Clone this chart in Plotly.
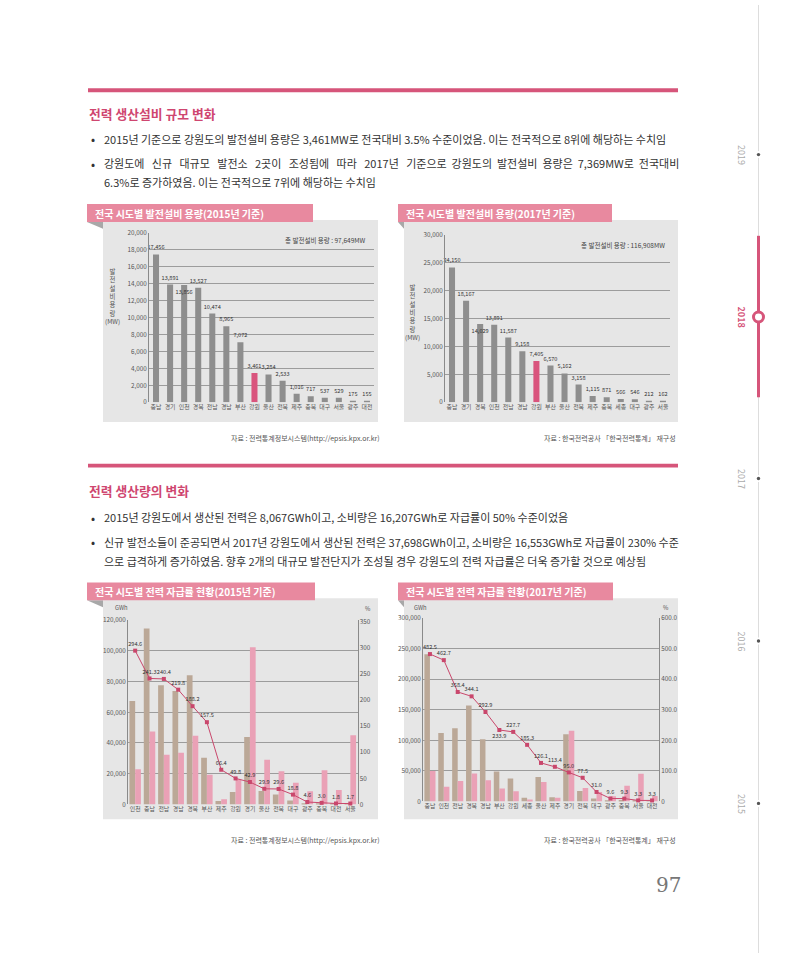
import plotly.graph_objects as go

W, H = 800, 957
def px(x): return x / W
def py(y): return 1 - y / H

FONT = "Noto Sans CJK KR"
NUMFONT = "Noto Sans CJK KR"

# ---------------- DATA ----------------
cap15_regions = ["충남","경기","인천","경북","전남","경남","부산","강원","울산","전북","제주","충북","대구","서울","광주","대전"]
cap15_values = [17456,13891,13856,13527,10474,8965,7072,3461,3284,2533,1016,717,537,529,175,155]
cap15_total = "총 발전설비 용량 : 97,649MW"

cap17_regions = ["충남","경기","경북","인천","전남","경남","강원","부산","울산","전북","제주","충북","세종","대구","광주","서울"]
cap17_values = [24150,18167,14029,13891,11587,9158,7405,6570,5162,3158,1115,871,566,546,212,162]
cap17_total = "총 발전설비 용량 : 116,908MW"

sup15_regions = ["인천","충남","전남","경남","경북","부산","제주","강원","경기","울산","전북","대구","광주","충북","대전","서울"]
sup15_prod = [67400,114600,77600,73900,84100,30400,2200,8067,43900,8700,6400,2600,390,670,170,765]
sup15_cons = [22900,47500,32300,33600,44700,19300,3300,16207,102300,29100,21600,14100,8500,22200,9400,45000]
sup15_ratio = [294.6,241.3,240.4,219.8,188.2,157.5,66.4,49.8,42.9,29.9,29.6,18.8,4.6,3.0,1.8,1.7]

sup17_regions = ["충남","인천","전남","경북","경남","부산","강원","세종","울산","제주","경기","전북","대구","광주","충북","서울","대전"]
sup17_prod = [241000,112000,120000,157000,102000,49000,37698,6000,40000,7000,110000,17000,4800,800,2400,1500,300]
sup17_cons = [50000,24200,33500,45600,34800,21000,16553,3200,31700,6200,115800,21900,15500,8300,25800,45500,9100]
sup17_ratio = [482.5,462.7,358.4,344.1,292.9,233.9,227.7,185.3,126.1,113.4,95.0,77.5,31.0,9.6,9.3,3.3,3.3]

cap15_ticks = [0,2000,4000,6000,8000,10000,12000,14000,16000,18000,20000]
cap17_ticks = [0,5000,10000,15000,20000,25000,30000]
sup15_lticks = [0,20000,40000,60000,80000,100000,120000]
sup15_rticks = [0,50,100,150,200,250,300,350]
sup17_lticks = [0,50000,100000,150000,200000,250000,300000]
sup17_rticks = [0,100,200,300,400,500,600]
sup17_rtext = ["0","100.0","200.0","300.0","400.0","500.0","600.0"]

highlight = "강원"

# ---------------- STYLE ----------------
GRAY_BAR = "#8e8e8e"
PINK_HI = "#d9547d"
TAN = "#bba897"
PINK_BAR = "#eaa1b6"
LINE = "#c9476c"
PANEL = "#e6e6e6"
BANNER = "#e8899f"
RULE = "#d6557a"
GRID = "#9c9c9c"
TXT = "#333333"
TICK = dict(family=FONT, size=5.9, color="#555555")
YTICK = dict(family=NUMFONT, size=6.3, color="#555555")

fig = go.Figure()

def col_list(regions, base):
    return [PINK_HI if r == highlight else base for r in regions]

# labels that sit on the bar top in the reference (crowded by a taller neighbour)
on_bar = {"x": "인천", "x2": "경북"}

for vals, regs, xa, ya in [(cap15_values, cap15_regions, "x", "y"), (cap17_values, cap17_regions, "x2", "y2")]:
    fig.add_trace(go.Bar(x=regs, y=vals, width=0.43,
                         marker=dict(color=col_list(regs, GRAY_BAR), line=dict(width=0)),
                         text=[f"{v:,}" for v in vals],
                         textposition=["inside" if r == on_bar[xa] else "outside" for r in regs],
                         insidetextanchor="end", textangle=0,
                         textfont=dict(family=NUMFONT, size=5.6, color=TXT),
                         insidetextfont=dict(family=NUMFONT, size=5.6, color=TXT),
                         outsidetextfont=dict(family=NUMFONT, size=5.6, color=TXT),
                         constraintext="none",
                         cliponaxis=False, xaxis=xa, yaxis=ya, showlegend=False))

LBL = dict(family=NUMFONT, size=5.6, color=TXT)

# Chart 3
fig.add_trace(go.Bar(x=sup15_regions, y=sup15_prod, width=0.4, offset=-0.4,
                     marker=dict(color=TAN, line=dict(width=0)), xaxis="x3", yaxis="y3", showlegend=False))
fig.add_trace(go.Bar(x=sup15_regions, y=sup15_cons, width=0.4, offset=0,
                     marker=dict(color=PINK_BAR, line=dict(width=0)), xaxis="x3", yaxis="y3", showlegend=False))
fig.add_trace(go.Scatter(x=sup15_regions, y=sup15_ratio, mode="lines+markers+text",
                         line=dict(color=LINE, width=1), marker=dict(symbol="square", size=4, color=LINE),
                         text=[f"{v:.1f}" for v in sup15_ratio], textposition="top center",
                         textfont=LBL, cliponaxis=False,
                         xaxis="x3", yaxis="y4", showlegend=False))
# Chart 4
fig.add_trace(go.Bar(x=sup17_regions, y=sup17_prod, width=0.4, offset=-0.4,
                     marker=dict(color=TAN, line=dict(width=0)), xaxis="x4", yaxis="y5", showlegend=False))
fig.add_trace(go.Bar(x=sup17_regions, y=sup17_cons, width=0.4, offset=0,
                     marker=dict(color=PINK_BAR, line=dict(width=0)), xaxis="x4", yaxis="y5", showlegend=False))
pos17 = ["top center"] * len(sup17_ratio)
pos17[5] = "bottom center"
fig.add_trace(go.Scatter(x=sup17_regions, y=sup17_ratio, mode="lines+markers+text",
                         line=dict(color=LINE, width=1), marker=dict(symbol="square", size=4, color=LINE),
                         text=[f"{v:.1f}" for v in sup17_ratio], textposition=pos17,
                         textfont=LBL, cliponaxis=False,
                         xaxis="x4", yaxis="y6", showlegend=False))

def xax(x0, x1, y):
    return dict(domain=[px(x0), px(x1)], anchor=y, tickfont=TICK, showgrid=False,
                showline=False, ticks="", fixedrange=True)

def yax(y0, y1, x, rng, vals, texts=None, grid=True, side="left", overlay=None, line=True):
    d = dict(domain=[py(y0), py(y1)], anchor=x, range=rng, tickvals=vals,
             ticktext=texts if texts else [f"{v:,}" for v in vals],
             tickfont=YTICK, showgrid=grid, gridcolor=GRID, gridwidth=0.8,
             zeroline=False, showline=line, linecolor="#8a8a8a", linewidth=0.8,
             ticks="", side=side)
    if overlay:
        d["overlaying"] = overlay
    return d

layout = dict(
    width=W, height=H, margin=dict(l=0, r=0, t=0, b=0), autosize=False,
    paper_bgcolor="white", plot_bgcolor="rgba(0,0,0,0)", barmode="overlay",
    font=dict(family=FONT, color=TXT),
    xaxis=dict(xax(149, 374, "y"), range=[-0.5, 15.5]),
    yaxis=yax(401, 230, "x", [0, 20000], cap15_ticks),
    xaxis2=dict(xax(445, 670, "y2"), range=[-0.5, 15.5]),
    yaxis2=yax(401, 232, "x2", [0, 30000], cap17_ticks),
    xaxis3=dict(xax(128, 357.5, "y3"), range=[-0.5, 15.5]),
    yaxis3=yax(807, 621, "x3", [0, 120000], sup15_lticks),
    yaxis4=yax(807, 621, "x3", [0, 353], sup15_rticks, texts=[str(v) for v in sup15_rticks],
               grid=False, side="right", overlay="y3"),
    xaxis4=dict(xax(423, 659, "y5"), range=[-0.5, 16.5]),
    yaxis5=yax(804, 619, "x4", [0, 300000], sup17_lticks),
    yaxis6=yax(804, 619, "x4", [0, 600], sup17_rticks, texts=sup17_rtext,
               grid=False, side="right", overlay="y5"),
)
fig.update_layout(**layout)

shapes = []
ann = []

def rect(x0, y0, x1, y1, color, layer="below"):
    shapes.append(dict(type="rect", xref="paper", yref="paper", x0=px(x0), x1=px(x1),
                       y0=py(y1), y1=py(y0), fillcolor=color, line=dict(width=0), layer=layer))

def text(x, y, s, size, color=TXT, xanchor="left", bold=False, family=FONT, angle=0):
    if bold:
        s = f"<b>{s}</b>"
    ann.append(dict(x=px(x), y=py(y), xref="paper", yref="paper", text=s, showarrow=False,
                    xanchor=xanchor, yanchor="middle", textangle=angle,
                    font=dict(family=family, size=size, color=color)))

def justify(s, extra):
    words = s.split(" ")
    gaps = len(words) - 1
    out = words[0]
    for i, w in enumerate(words[1:]):
        n = 1 + extra // gaps + (1 if i < extra % gaps else 0)
        out += " " * n + w
    return out

# Section rules + headings
rect(88, 84, 678, 88, RULE)
rect(88, 463, 678, 467, RULE)
text(87, 110, "전력 생산설비 규모 변화", 12.8, "#cf4670", bold=True)
text(87, 490, "전력 생산량의 변화", 12.8, "#cf4670", bold=True)

BODY = 11
def bullet(y, s):
    text(89, y, "•", 12, TXT)
    text(102, y, s, BODY, TXT)

bullet(135, "2015년 기준으로 강원도의 발전설비 용량은 3,461MW로 전국대비 3.5% 수준이었음. 이는 전국적으로 8위에 해당하는 수치임")
bullet(160, justify("강원도에 신규 대규모 발전소 2곳이 조성됨에 따라 2017년 기준으로 강원도의 발전설비 용량은 7,369MW로 전국대비", 21))
text(102, 179, "6.3%로 증가하였음. 이는 전국적으로 7위에 해당하는 수치임", BODY, TXT)
bullet(517, "2015년 강원도에서 생산된 전력은 8,067GWh이고, 소비량은 16,207GWh로 자급률이 50% 수준이었음")
bullet(542, "신규 발전소들이 준공되면서 2017년 강원도에서 생산된 전력은 37,698GWh이고, 소비량은 16,553GWh로 자급률이 230% 수준")
text(102, 561, "으로 급격하게 증가하였음. 향후 2개의 대규모 발전단지가 조성될 경우 강원도의 전력 자급률은 더욱 증가할 것으로 예상됨", BODY, TXT)

# Panels & banners
def panel(bx0, bx1, by0, by1, px0, px1, pbot, title):
    rect(px0, by1 - 2, px1, pbot, PANEL)
    shapes.append(dict(type="path", xref="paper", yref="paper",
                       path=f"M {px(bx0)},{py(by1)} L {px(px0)},{py(by1)} L {px(px0)},{py(by1 + 7)} Z",
                       fillcolor="#a8a8a8", line=dict(width=0), layer="below"))
    rect(bx0, by0, bx1, by1, BANNER)
    text(bx0 + 6, (by0 + by1) / 2 + 0.5, title, 10, "white", bold=True)

panel(87, 313, 201, 219, 103, 378, 421, "전국 시도별 발전설비 용량(2015년 기준)")
panel(398, 612, 201, 219, 404, 678, 421, "전국 시도별 발전설비 용량(2017년 기준)")
panel(87, 315, 583, 601, 103, 378, 822, "전국 시도별 전력 자급률 현황(2015년 기준)")
panel(398, 613, 583, 601, 404, 678, 822, "전국 시도별 전력 자급률 현황(2017년 기준)")

# Chart inner annotations
text(368, 237, cap15_total, 6.5, "#444444", xanchor="right")
text(667, 242, cap17_total, 6.5, "#444444", xanchor="right")
ytitle = "발<br>전<br>설<br>비<br>용<br>량<br>(MW)"
ann.append(dict(x=px(113), y=py(294), xref="paper", yref="paper", text=ytitle, showarrow=False,
                xanchor="center", yanchor="middle", font=dict(family=FONT, size=6.4, color="#555555")))
ann.append(dict(x=px(412), y=py(310), xref="paper", yref="paper", text=ytitle, showarrow=False,
                xanchor="center", yanchor="middle", font=dict(family=FONT, size=6.4, color="#555555")))
text(113, 608, "GWh", 5.8, "#555555")
text(363, 609, "%", 5.8, "#555555")
text(412, 608, "GWh", 5.8, "#555555")
text(661, 608, "%", 5.8, "#555555")

# Sources
SRC1 = "자료 : 전력통계정보시스템(http://epsis.kpx.or.kr)"
SRC2 = "자료 : 한국전력공사 「한국전력통계」 재구성"
text(382, 437, SRC1, 7, "#555555", xanchor="right")
text(678, 437, SRC2, 7, "#555555", xanchor="right")
text(382, 843, SRC1, 7, "#555555", xanchor="right")
text(678, 843, SRC2, 7, "#555555", xanchor="right")

# Timeline
shapes.append(dict(type="line", xref="paper", yref="paper", x0=px(758.5), x1=px(758.5), y0=0, y1=1,
                   line=dict(color="#dddddd", width=1), layer="below"))
shapes.append(dict(type="line", xref="paper", yref="paper", x0=px(758.5), x1=px(758.5),
                   y0=py(396), y1=py(233), line=dict(color=RULE, width=3), layer="above"))
shapes.append(dict(type="circle", xref="paper", yref="paper", x0=px(753.5), x1=px(763.5),
                   y0=py(320), y1=py(310), fillcolor="white", line=dict(color=RULE, width=3), layer="above"))
for yr, yy in [("2019", 151), ("2017", 478), ("2016", 642), ("2015", 806)]:
    shapes.append(dict(type="circle", xref="paper", yref="paper", x0=px(755), x1=px(762),
                       y0=py(yy + 3.5), y1=py(yy - 3.5), fillcolor="white", line=dict(width=0), layer="above"))
    shapes.append(dict(type="circle", xref="paper", yref="paper", x0=px(756.8), x1=px(760.2),
                       y0=py(yy + 1.7), y1=py(yy - 1.7), fillcolor="#555555", line=dict(width=0), layer="above"))
    ann.append(dict(x=px(741.5), y=py(yy), xref="paper", yref="paper", text=yr, showarrow=False,
                    textangle=90, xanchor="center", yanchor="middle",
                    font=dict(family=FONT, size=9, color="#aaaaaa")))
ann.append(dict(x=px(741.5), y=py(315), xref="paper", yref="paper", text="<b>2018</b>", showarrow=False,
                textangle=90, xanchor="center", yanchor="middle",
                font=dict(family=FONT, size=9, color=RULE)))

# Page number
text(668, 888, "97", 20, "#777777", xanchor="center", family="DejaVu Serif")

fig.update_layout(shapes=shapes, annotations=ann)
fig.write_html("out.html")
